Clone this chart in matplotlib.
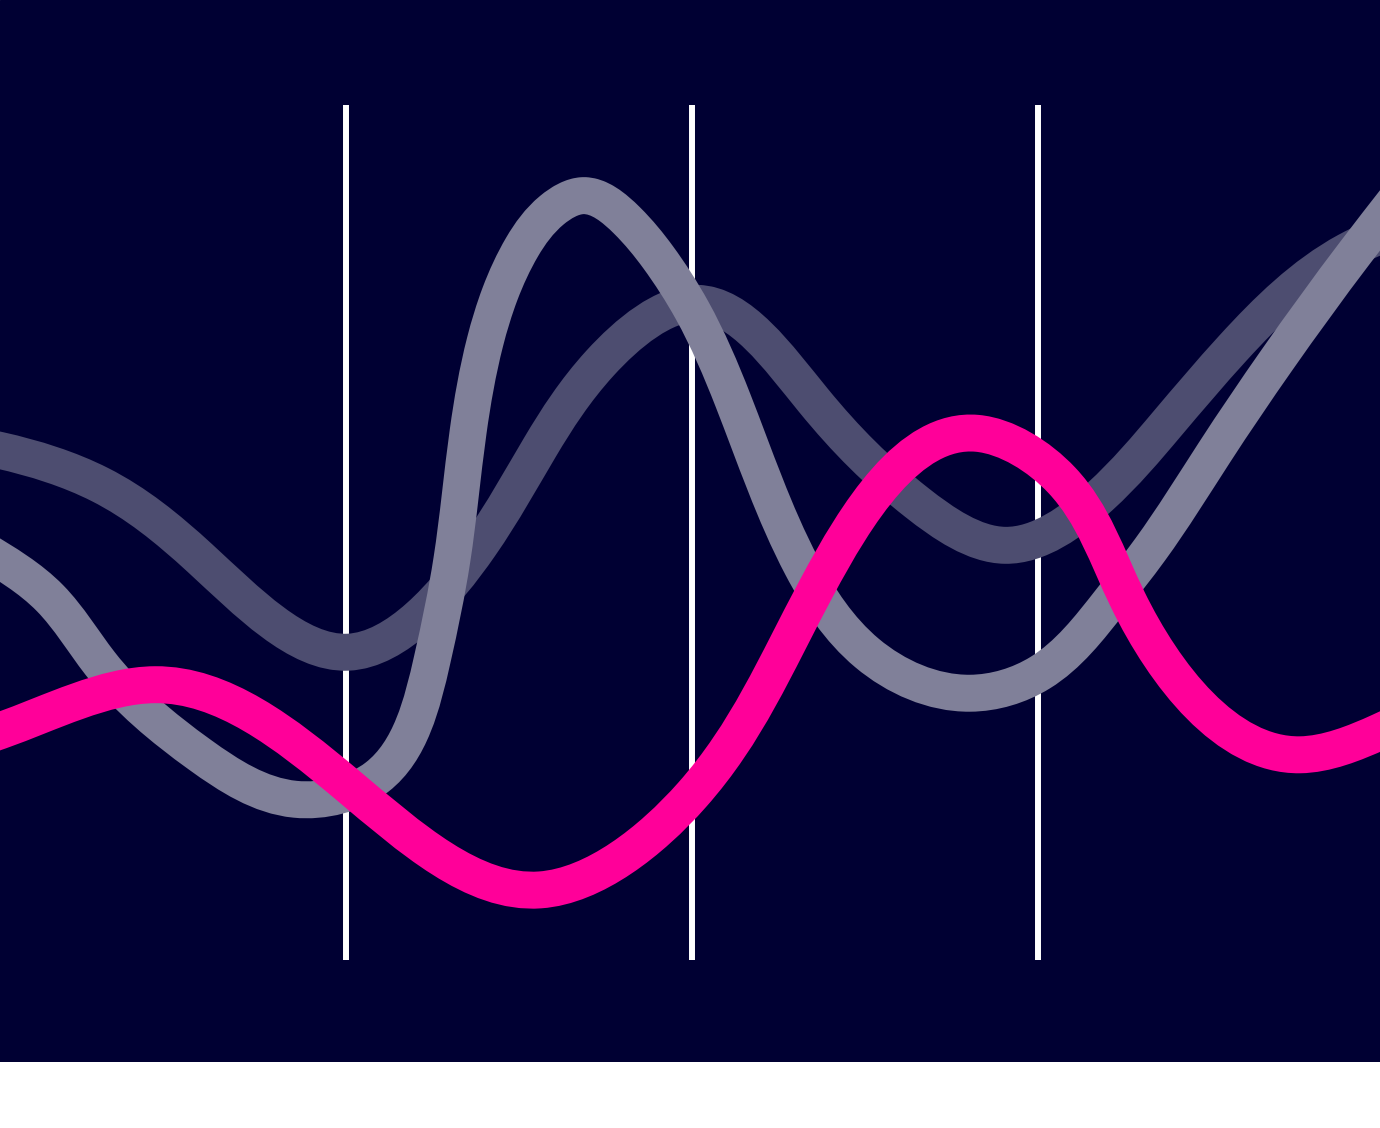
import numpy as np
import matplotlib
matplotlib.use("Agg")
import matplotlib.pyplot as plt
from matplotlib.path import Path
from matplotlib.patches import PathPatch

# series (x in periods 0-4, y in value units 0-100);
# first and last points sit just outside the visible range
pink_x = [-0.058, 0.0, 0.448, 1.003, 1.561, 2.000, 2.361, 2.824, 3.069, 3.260,
          3.757, 3.988, 4.046]
pink_y = [26.0, 26.8, 32.2, 20.5, 8.2, 19.3, 43.6, 61.6, 56.1, 42.1,
          24.0, 26.7, 27.8]

light_x = [-0.058, 0.145, 0.289, 0.578, 0.853, 1.090, 1.249, 1.306, 1.353,
           1.402, 1.445, 1.509, 1.595, 1.685, 1.812, 1.902, 2.000, 2.118, 2.318,
           2.506, 2.803, 3.006, 3.208, 3.324, 3.509, 3.691, 3.916, 4.046]
light_y = [48.2, 42.3, 34.7, 24.0, 18.8, 21.4, 35.1, 46.8, 61.8,
           72.3, 77.9, 83.4, 87.7, 89.4, 86.5, 82.2, 76.0, 65.5, 46.0,
           35.9, 31.2, 33.6, 41.9, 48.0, 59.3, 70.2, 82.7, 89.5]

dark_x = [-0.058, 0.0, 0.289, 0.578, 1.006, 1.387, 1.561, 1.734, 2.014, 2.350,
          2.650, 2.905, 3.179, 3.373, 3.564, 3.893, 4.046]
dark_y = [60.1, 59.6, 55.6, 47.0, 36.0, 48.5, 60.0, 69.8, 76.8, 65.5,
          53.5, 48.5, 54.2, 62.7, 71.6, 82.9, 85.7]

grid_x = [1, 2, 3]
grid_lo, grid_hi = 0, 100

BG = "#000033"
PINK = "#ff0099"
LIGHT = "#808099"
DARK = "#4d4d70"


def natural_slopes(t, v):
    # first derivatives of a natural cubic spline v(t) at the knots
    n = len(t)
    h = np.diff(t)
    s = np.diff(v) / h
    A = np.zeros((n, n))
    b = np.zeros(n)
    A[0, 0] = A[-1, -1] = 1
    for i in range(1, n - 1):
        A[i, i - 1] = h[i - 1]
        A[i, i] = 2 * (h[i - 1] + h[i])
        A[i, i + 1] = h[i]
        b[i] = 6 * (s[i] - s[i - 1])
    M = np.linalg.solve(A, b)
    d = np.empty(n)
    d[:-1] = s - h * (2 * M[:-1] + M[1:]) / 6
    d[-1] = s[-1] + h[-1] * (M[-2] + 2 * M[-1]) / 6
    return d


def spline_path(ax, x, y):
    # parametric natural spline (chord length measured on screen) -> beziers
    x = np.asarray(x, float)
    y = np.asarray(y, float)
    scr = ax.transData.transform(np.column_stack([x, y]))
    t = np.concatenate([[0], np.cumsum(np.hypot(*np.diff(scr, axis=0).T))])
    dx = natural_slopes(t, x)
    dy = natural_slopes(t, y)
    h = np.diff(t)
    verts = [(x[0], y[0])]
    codes = [Path.MOVETO]
    for i in range(len(x) - 1):
        k = h[i] / 3
        verts += [(x[i] + k * dx[i], y[i] + k * dy[i]),
                  (x[i + 1] - k * dx[i + 1], y[i + 1] - k * dy[i + 1]),
                  (x[i + 1], y[i + 1])]
        codes += [Path.CURVE4] * 3
    return Path(verts, codes)


fig = plt.figure(figsize=(13.8, 11.28), dpi=100, facecolor="white")
ax = fig.add_axes([0, 66 / 1128, 1, 1062 / 1128])
ax.set_facecolor(BG)
ax.set_xlim(0, 1380 / 346)
ax.set_ylim(-102 / 8.55, 960 / 8.55)
ax.axis("off")
ax.add_patch(plt.Rectangle((0, 0), 1, 1, transform=ax.transAxes, color=BG, zorder=0))

ax.vlines(grid_x, grid_lo, grid_hi, colors="white", linewidth=4.3, zorder=1)

for xs, ys, col, z in [(dark_x, dark_y, DARK, 2), (light_x, light_y, LIGHT, 3),
                       (pink_x, pink_y, PINK, 4)]:
    ax.add_patch(PathPatch(spline_path(ax, xs, ys), fill=False, edgecolor=col,
                           linewidth=26.6, capstyle="butt", joinstyle="round",
                           zorder=z))

fig.savefig("out.png", dpi=100, facecolor="white")
